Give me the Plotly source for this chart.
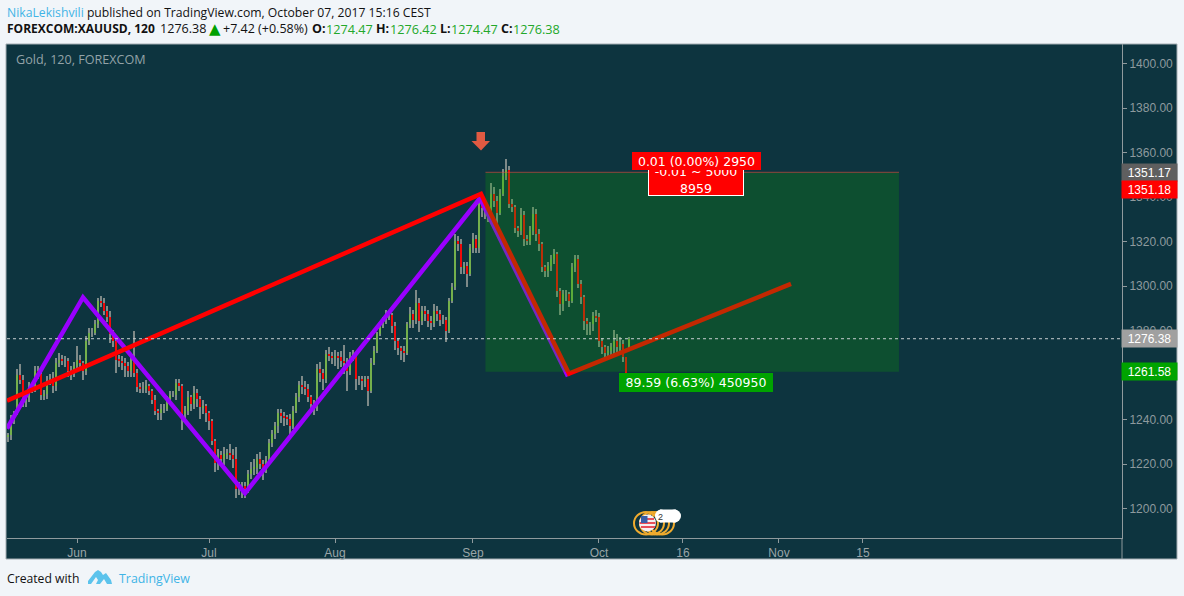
import plotly.graph_objects as go

# --- data ---
closes = [
 1233,1240,1243,1260,1258,1248.5,1250,1254,1254.5,1262,
 1260.5,1251,1251.5,1257.5,1258.5,1255,1265.5,1267,1266.5,1266.5,
 1262,1261,1264,1267,1265.5,1262,1275.5,1279,1279,1283,
 1293.5,1292.5,1289,1286,1278.5,1275.5,1267,1266.5,1265.5,1264,
 1262,1267,1261,1254.5,1254,1254,1255,1253,1249,1244,
 1243,1245,1245,1249.5,1251,1251,1256.5,1255,1242.5,1244,
 1250,1247,1252,1249.5,1245.5,1246,1243,1239.5,1230.5,1220.5,
 1224,1222.5,1224.5,1225,1224,1222.5,1209,1210,1210,1209,
 1215.5,1218,1218.5,1222.5,1220,1217,1221.5,1229.5,1233.5,1237,
 1243,1241.5,1241,1240.5,1237,1244,1250,1255.5,1254.5,1254,
 1250,1247,1246,1263,1261,1258.5,1269.5,1268.5,1268,1268.5,
 1268,1266.5,1265.5,1262,1268.5,1269.5,1258.5,1258.5,1257.5,1258.5,
 1253,1265.5,1271,1278.5,1283,1285,1287.5,1287,1282,1275.5,
 1272,1271,1270,1283,1287.5,1285,1292.5,1284.5,1289,1287.5,
 1284.5,1283.5,1289,1287.5,1285,1285,1280,1293.5,1299.5,1320.5,
 1319,1308.5,1309,1305.5,1317,1321,1317,1337,1335,1334,
 1334,1341.5,1338.5,1333,1341.5,1349.5,1352,1337,1335.5,1326,
 1325,1332,1321,1320.5,1325,1332.5,1323.5,1319,1308.5,1307,
 1309,1312,1314.5,1298,1292,1296.5,1296.5,1293.5,1308.5,1312,
 1301,1295,1284.5,1283,1283,1286.5,1286,1275.5,1272.5,1270,
 1271,1272.5,1275.5,1272.5,1274,1268,1260.5,1276.38]
first_open = 1232
final_open = 1271
wick_up = [
 1,2,1,3,5,2,2,3,2,2, 2,1,2,2,2,3,2,3,2,2, 1,2,2,6,2,1,2,2,2,2,
 1,2,2,2,3,2,2,2,2,2, 2,1,13,2,2,3,3,1,1,2, 1,2,2,1,2,2,2,2,1,2,
 3,1,3,2,1,3,1,1,1,1, 3,2,3,2,4,3,5,2,2,2, 2,3,4,2,3,2,2,2,2,2,
 2,2,2,1,2,2,2,2,4,3, 2,1,2,2,3,2,2,3,2,3, 2,3,7,2,2,2,1,1,1,1,
 1,2,2,1,1,1,2,2,1,2, 1,1,2,1,3,2,6,2,2,2, 2,2,3,2,2,2,1,1,2,3,
 2,2,2,2,2,3,2,2,2,2, 2,5,3,2,2,3,5,2,2,1, 1,3,2,2,2,3,2,2,1,1,
 2,2,2,1,1,2,2,1,2,2, 2,2,1,1,1,2,3,2,1,1, 2,2,5,3,3,2,0,1]
wick_down = [
 2,2,2,1,2,3,3,2,2,2, 2,2,2,2,2,3,2,2,2,3, 3,3,2,2,3,4,2,2,2,1,
 2,2,2,2,4,3,6,3,3,5, 3,3,2,2,2,2,2,2,2,2, 3,3,2,1,2,1,2,2,7,3,
 2,3,2,4,5,3,4,4,2,4, 3,2,3,2,2,4,4,3,5,4, 2,2,3,3,2,4,1,2,2,2,
 3,3,4,3,4,1,1,2,3,3, 2,4,4,2,4,5,2,2,3,4, 5,3,5,9,2,2,5,3,4,3,
 7,1,1,1,1,2,2,2,3,4, 3,4,4,1,2,4,2,5,2,3, 3,3,2,3,3,2,5,1,1,1,
 3,3,3,6,1,2,2,2,4,4, 5,2,3,5,1,1,2,2,2,2, 3,2,3,2,2,2,3,3,2,3,
 3,2,2,3,5,3,3,3,1,2, 2,3,4,5,5,3,2,3,3,3, 3,3,3,3,3,2,0,0]

tick_sessions = [0, 22, 43, 66, 87, 101, 117, 131]
tick_labels = ["Jun", "Jul", "Aug", "Sep", "Oct", "16", "Nov", "15"]
price_ticks = [1200, 1220, 1240, 1260, 1280, 1300, 1320, 1340, 1360, 1380, 1400]

purple_x = [-11.67, 1, 28, 67.17, 81.83]
purple_y = [1236, 1295, 1207, 1339.5, 1259.5]
red_x = [-11.67, 67.33, 82, 119]
red_y = [1248.5, 1341.5, 1260.7, 1301]
position_x = [68.08, 137]
stop_price = 1351.18
target_price = 1261.58
last_price = 1276.38

# --- layout geometry ---
PL, PR, PT, PB = 7, 1122, 44, 538
Y0, Y1 = 1186.82, 1408.84
X0, X1 = -11.667, 174.17
def px(v): return (v - PL) / (PR - PL)
def py(v): return (PB - v) / (PB - PT)

opens = [first_open] + closes[:-1]
opens[-1] = final_open
xs = [-11.5 + 0.5 * i for i in range(len(closes))]
highs = [max(o, c) + u for o, c, u in zip(opens, closes, wick_up)]
lows = [min(o, c) - d for o, c, d in zip(opens, closes, wick_down)]
up = [i for i in range(len(closes)) if closes[i] >= opens[i]]
dn = [i for i in range(len(closes)) if closes[i] < opens[i]]

GREEN, RED, WICK = "#74b04c", "#f00a0a", "#7e8a88"
BG, PAPER, TICK = "#0d343f", "#f1f5f9", "#8d9a9e"

fig = go.Figure()
fig.add_bar(x=xs, y=[h - l for h, l in zip(highs, lows)], base=lows, width=0.27,
            marker=dict(color=WICK, line_width=0), showlegend=False, hoverinfo="skip")
fig.add_bar(x=[xs[i] for i in up], y=[closes[i] - opens[i] for i in up],
            base=[opens[i] for i in up], width=0.2,
            marker=dict(color=GREEN, line_width=0), showlegend=False)
fig.add_bar(x=[xs[i] for i in dn], y=[closes[i] - opens[i] for i in dn],
            base=[opens[i] for i in dn], width=0.25,
            marker=dict(color=RED, line_width=0), showlegend=False)
fig.add_scatter(x=purple_x, y=purple_y, mode="lines",
                line=dict(color="#9900ff", width=4.5), showlegend=False)
fig.add_scatter(x=red_x, y=red_y, mode="lines",
                line=dict(color="#ff0000", width=4.5), showlegend=False)

shapes = [
    dict(type="rect", xref="paper", yref="paper", x0=px(6), x1=px(1177), y0=py(559), y1=py(44),
         fillcolor=BG, line=dict(color="#a4adb3", width=1), layer="below"),
    dict(type="line", xref="paper", yref="paper", x0=1, x1=1, y0=py(559), y1=0,
         line=dict(color="#8f9a9d", width=1)),
    dict(type="rect", xref="x", yref="y", x0=position_x[0], x1=position_x[1],
         y0=target_price, y1=stop_price, fillcolor="rgba(17,160,3,0.25)", line_width=0, layer="above"),
    dict(type="line", xref="x", yref="y", x0=position_x[0], x1=position_x[1],
         y0=stop_price, y1=stop_price, line=dict(color="rgba(255,70,70,0.55)", width=1)),
    dict(type="line", xref="paper", yref="y", x0=0, x1=1, y0=last_price, y1=last_price,
         line=dict(color="#c9cfd1", width=1, dash="dot")),
]
# white ticks beside the price tags
for yy in (172, 189, 338.5, 371.5):
    shapes.append(dict(type="line", xref="paper", yref="paper", x0=px(1122), x1=px(1126),
                       y0=py(yy), y1=py(yy), line=dict(color="#ffffff", width=1)))
# entry arrow
shapes += [
    dict(type="rect", xref="paper", yref="paper", x0=px(476.5), x1=px(485), y0=py(142), y1=py(132),
         fillcolor="#e05a42", line_width=0),
    dict(type="path", xref="paper", yref="paper",
         path=f"M{px(471.5)},{py(141)} L{px(490)},{py(141)} L{px(481)},{py(150.5)} Z",
         fillcolor="#e05a42", line_width=0),
]
# event badge
for cx in (646, 652, 657, 662):
    shapes.append(dict(type="circle", xref="paper", yref="paper", x0=px(cx - 12), x1=px(cx + 12),
                       y0=py(534.5), y1=py(512), line=dict(color="#f0ab2e", width=2)))
shapes += [
    dict(type="circle", xref="paper", yref="paper", x0=px(639), x1=px(656), y0=py(531.5), y1=py(514.5),
         fillcolor="#f5f0f0", line_width=0),
    dict(type="rect", xref="paper", yref="paper", x0=px(641), x1=px(655), y0=py(528), y1=py(526),
         fillcolor="#e8505a", line_width=0),
    dict(type="rect", xref="paper", yref="paper", x0=px(639.5), x1=px(655.5), y0=py(524), y1=py(522),
         fillcolor="#e8505a", line_width=0),
    dict(type="rect", xref="paper", yref="paper", x0=px(642), x1=px(654), y0=py(520), y1=py(518),
         fillcolor="#e8505a", line_width=0),
    dict(type="rect", xref="paper", yref="paper", x0=px(641), x1=px(647.5), y0=py(523), y1=py(516),
         fillcolor="#3a5fa8", line_width=0),
    dict(type="rect", xref="paper", yref="paper", x0=px(660), x1=px(676), y0=py(522.5), y1=py(509.5),
         fillcolor="#ffffff", line_width=0),
    dict(type="circle", xref="paper", yref="paper", x0=px(655), x1=px(667), y0=py(522.5), y1=py(509.5),
         fillcolor="#ffffff", line_width=0),
    dict(type="circle", xref="paper", yref="paper", x0=px(668), x1=px(681), y0=py(522.5), y1=py(509.5),
         fillcolor="#ffffff", line_width=0),
]
# footer logo
logo = [(88,581),(95,572),(98,570),(101,572),(103,575),(106,573),(111,580),(112,584),(107,584),(104,579),
        (100,584),(96,584),(98,580),(96,577),(91,584),(88,584)]
shapes.append(dict(type="path", xref="paper", yref="paper",
                   path="M" + " L".join(f"{px(a)},{py(b)}" for a, b in logo) + " Z",
                   fillcolor="#5cc3ec", line_width=0))

UI = "Open Sans"
ann = []
def text(x, y, s, size=12.0, color="#111", font=UI, anchor="left"):
    ann.append(dict(xref="paper", yref="paper", x=px(x), y=py(y), text=s, showarrow=False,
                    xanchor=anchor, yanchor="middle", align="left",
                    font=dict(family=font, size=size, color=color), borderpad=0))
def tag(y, s, bg):
    ann.append(dict(xref="paper", yref="paper", x=px(1149.5), y=py(y), text=s, showarrow=False,
                    xanchor="center", yanchor="middle", width=55, height=17, bgcolor=bg, align="center",
                    font=dict(family="Liberation Sans", size=12, color="#ffffff"), borderpad=0))
def box(x0, x1, y0, y1, s, bg, border=None):
    ann.append(dict(xref="paper", yref="paper", x=px((x0 + x1) / 2), y=py((y0 + y1) / 2), text=s,
                    showarrow=False, xanchor="center", yanchor="middle", width=x1 - x0, height=y1 - y0,
                    bgcolor=bg, bordercolor=border or bg, borderwidth=1 if border else 0, borderpad=0,
                    align="center", font=dict(family="DejaVu Sans", size=12.5, color="#ffffff")))

G = "#22a82a"
text(5.5, 12, '<span style="color:#3fb4e6">NikaLekishvili</span> published on TradingView.com, October 07, 2017 15:16 CEST', size=12.2)
text(5.5, 29, '<b>FOREXCOM:XAUUSD, 120</b>')
text(159, 29, '1276.38', size=12.6)
text(207.5, 29, '▲', size=15, color="#00a000", font="DejaVu Sans")
text(222, 29, '+7.42 (+0.58%)', size=12.5)
for xl, lab, xv, val in ((311, "O:", 325, "1274.47"), (375, "H:", 389, "1276.42"),
                         (439, "L:", 450, "1274.47"), (500, "C:", 512, "1276.38")):
    text(xl, 29, f"<b>{lab}</b>", size=12.5)
    text(xv, 29, val, size=12.7, color=G)
text(14.5, 60, "Gold, 120, FOREXCOM", size=12.6, color="#93a3a8")
text(5.5, 578, "Created with", size=12.2, color="#111")
text(117.5, 578, "TradingView", size=12.4, color="#3fb4e6")
text(660, 517, "2", size=9, color="#333", font="Liberation Sans", anchor="center")
tag(172, "1351.17", "#5f5f5f")
tag(189, "1351.18", "#ff0000")
tag(338.5, "1276.38", "#a0a0a0")
tag(371.5, "1261.58", "#00a300")
box(649, 743, 165, 195, "-0.01 ~ 5000<br>8959", "#ff0000", "#ffffff")
box(632, 761, 152, 170, "0.01 (0.00%) 2950", "#ff0000")
box(619, 773, 373, 392, "89.59 (6.63%) 450950", "#00a300")

fig.update_layout(
    width=1184, height=596, autosize=False, barmode="overlay", bargap=0,
    margin=dict(l=PL, r=1184 - PR, t=PT, b=596 - PB, pad=0),
    paper_bgcolor=PAPER, plot_bgcolor=BG, showlegend=False,
    shapes=shapes, annotations=ann,
    xaxis=dict(range=[X0, X1], tickmode="array", tickvals=tick_sessions, ticktext=tick_labels,
               showgrid=False, zeroline=False, showline=True, linecolor="#8f9a9d", linewidth=1,
               ticks="outside", ticklen=4, tickcolor="#8f9a9d",
               tickfont=dict(family="Liberation Sans", size=12, color="#9aa5a8")),
    yaxis=dict(range=[Y0, Y1], side="right", tickmode="array", tickvals=price_ticks,
               tickformat=".2f", showgrid=False, zeroline=False, showline=True, linecolor="#8f9a9d",
               linewidth=1, ticks="outside", ticklen=4, tickcolor="#8f9a9d",
               tickfont=dict(family="Liberation Sans", size=12, color=TICK)),
)
fig.write_html("out.html", config={"displayModeBar": False},
               post_script="document.body.style.margin='0';")
